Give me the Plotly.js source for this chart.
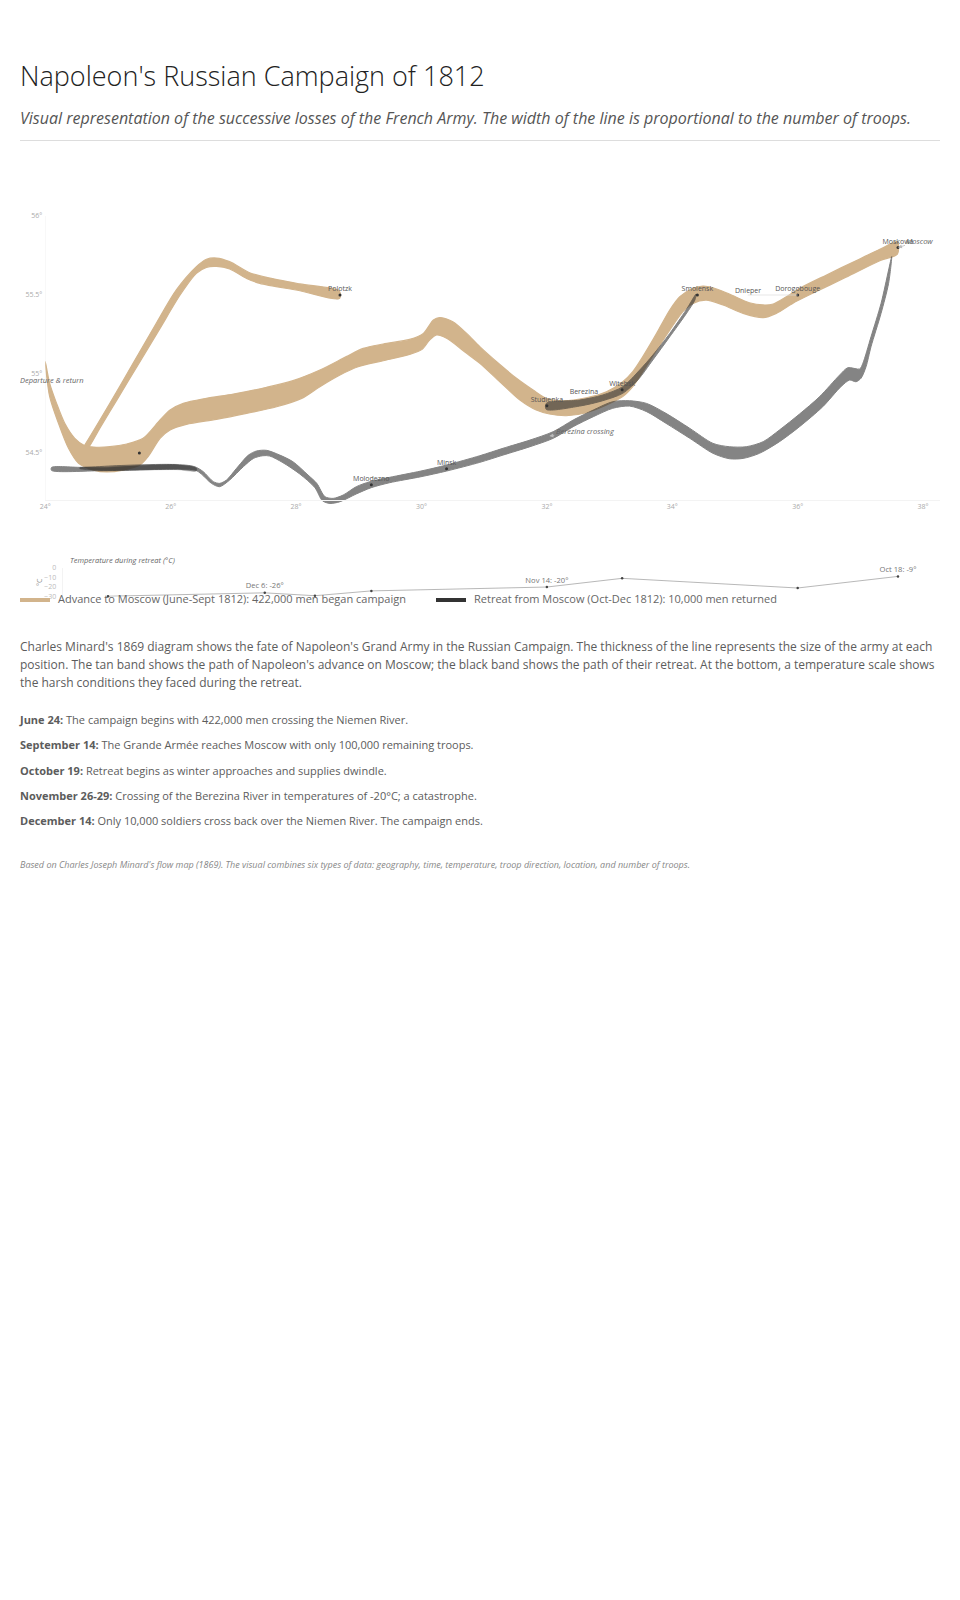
<!DOCTYPE html>
<html>
<head>
<meta charset="utf-8">
<script src="https://cdn.plot.ly/plotly-3.0.1.min.js"></script>
<style>
  html, body { margin: 0; padding: 0; background: #fff; }
  body { position: relative; width: 960px; height: 1600px; font-family: "Open Sans", sans-serif; overflow: hidden; }
  .abs { position: absolute; left: 20px; width: 920px; margin: 0; }
  #title { top: 56px; font-size: 27px; font-weight: 300; color: #222; line-height: 40px; white-space: nowrap; }
  #subtitle { top: 106px; font-size: 16px; font-style: italic; color: #555; line-height: 24px; white-space: nowrap; }
  #rule { top: 140px; height: 1px; background: #ddd; }
  #chart { top: 190px; height: 430px; }
  .legend-row { position: absolute; top: 590px; font-size: 11px; color: #666; line-height: 18px; white-space: nowrap; }
  .swatch { position: absolute; top: 598px; width: 30px; height: 4px; }
  #intro { top: 638px; font-size: 12px; line-height: 18px; color: #5c5c5c; }
  .event { font-size: 11px; line-height: 18px; color: #5c5c5c; white-space: nowrap; }
  .event b { font-weight: 700; }
  #foot { top: 858px; font-size: 9px; line-height: 14px; font-style: italic; color: #888; white-space: nowrap; }
</style>
</head>
<body>
<h1 class="abs" id="title" style="margin:0">Napoleon's Russian Campaign of 1812</h1>
<div class="abs" id="subtitle">Visual representation of the successive losses of the French Army. The width of the line is proportional to the number of troops.</div>
<div class="abs" id="rule"></div>
<div class="abs" id="chart"></div>
<div class="swatch" style="left:20px;background:#d2b48c"></div>
<div class="legend-row" style="left:58px">Advance to Moscow (June-Sept 1812): 422,000 men began campaign</div>
<div class="swatch" style="left:436px;background:#333"></div>
<div class="legend-row" style="left:474px">Retreat from Moscow (Oct-Dec 1812): 10,000 men returned</div>
<p class="abs" id="intro">Charles Minard's 1869 diagram shows the fate of Napoleon's Grand Army in the Russian Campaign. The thickness of the line represents the size of the army at each position. The tan band shows the path of Napoleon's advance on Moscow; the black band shows the path of their retreat. At the bottom, a temperature scale shows the harsh conditions they faced during the retreat.</p>
<p class="abs event" style="top:711px"><b>June 24:</b> The campaign begins with 422,000 men crossing the Niemen River.</p>
<p class="abs event" style="top:736px"><b>September 14:</b> The Grande Armée reaches Moscow with only 100,000 remaining troops.</p>
<p class="abs event" style="top:762px"><b>October 19:</b> Retreat begins as winter approaches and supplies dwindle.</p>
<p class="abs event" style="top:787px"><b>November 26-29:</b> Crossing of the Berezina River in temperatures of -20°C; a catastrophe.</p>
<p class="abs event" style="top:812px"><b>December 14:</b> Only 10,000 soldiers cross back over the Niemen River. The campaign ends.</p>
<p class="abs" id="foot">Based on Charles Joseph Minard's flow map (1869). The visual combines six types of data: geography, time, temperature, troop direction, location, and number of troops.</p>

<script>
// Band outlines (longitude, latitude)
const advanceLon = [24.00,24.07,24.21,24.37,24.53,24.77,24.98,25.24,25.51,25.64,25.83,25.99,26.25,26.73,27.21,27.69,28.09,28.38,28.70,28.99,29.39,29.81,30.01,30.13,30.24,30.40,30.72,30.93,31.25,31.57,31.83,32.04,32.31,32.63,32.95,33.21,33.37,33.53,33.75,33.96,34.17,34.33,34.54,34.81,35.13,35.45,35.66,35.92,36.24,36.77,37.31,37.59,37.59,37.31,36.93,36.46,36.03,35.82,35.61,35.45,35.23,34.91,34.65,34.49,34.33,34.12,33.96,33.75,33.53,33.37,33.21,32.95,32.63,32.26,31.99,31.78,31.51,31.25,30.93,30.72,30.50,30.29,30.19,30.03,29.81,29.39,29.07,28.80,28.38,27.95,27.53,27.00,26.57,26.20,25.99,25.83,25.56,25.30,25.03,24.77,24.61,24.47,24.31,24.18,24.07,24.00];
const advanceLat = [55.078,54.857,54.688,54.530,54.435,54.392,54.380,54.392,54.424,54.477,54.593,54.646,54.681,54.713,54.751,54.793,54.846,54.920,54.994,55.046,55.084,55.124,55.156,55.215,55.247,55.226,55.131,55.068,54.951,54.835,54.772,54.747,54.736,54.755,54.804,54.857,54.920,55.015,55.152,55.278,55.395,55.447,55.468,55.437,55.384,55.357,55.384,55.447,55.511,55.612,55.717,55.759,55.838,55.789,55.717,55.627,55.542,55.489,55.443,55.437,55.451,55.506,55.546,55.557,55.542,55.489,55.405,55.257,55.110,55.015,54.951,54.888,54.850,54.831,54.846,54.899,54.975,55.060,55.173,55.257,55.331,55.357,55.342,55.257,55.219,55.190,55.162,55.110,55.025,54.958,54.916,54.873,54.846,54.814,54.772,54.709,54.593,54.557,54.540,54.538,54.551,54.593,54.688,54.814,54.941,55.078];
const polotzkLon = [24.63,25.03,25.40,25.77,26.09,26.41,26.57,26.73,26.94,27.26,27.53,28.06,28.69,28.69,28.06,27.42,27.21,26.94,26.73,26.57,26.41,26.15,25.83,25.51,25.14,24.87,24.66,24.50,24.63];
const polotzkLat = [54.551,54.815,55.068,55.321,55.532,55.679,55.726,55.734,55.711,55.641,55.612,55.570,55.525,55.477,55.527,55.574,55.605,55.665,55.681,55.675,55.637,55.500,55.289,55.078,54.835,54.657,54.519,54.477,54.551];
const retreatLon = [24.10,24.61,25.14,25.93,26.31,26.41,26.52,26.68,26.78,26.89,27.05,27.24,27.37,27.53,27.74,27.95,28.19,28.33,28.46,28.59,28.75,28.96,29.18,29.49,29.99,30.40,30.93,31.30,31.73,32.10,32.42,32.74,33.05,33.32,33.59,33.90,34.28,34.65,34.91,35.18,35.45,35.71,36.03,36.35,36.67,36.80,36.99,37.04,37.17,37.33,37.45,37.50,37.45,37.33,37.17,37.09,37.01,36.93,36.83,36.69,36.40,36.03,35.71,35.39,35.13,34.91,34.65,34.28,33.90,33.59,33.32,33.05,32.74,32.42,32.10,31.73,31.30,30.93,30.40,29.99,29.49,29.20,28.96,28.70,28.54,28.42,28.30,28.06,27.79,27.58,27.47,27.32,27.16,26.94,26.78,26.65,26.49,26.39,25.93,25.40,24.87,24.10,24.10];
const retreatLat = [54.409,54.409,54.420,54.428,54.420,54.409,54.382,54.319,54.308,54.329,54.403,54.487,54.513,54.517,54.487,54.445,54.361,54.308,54.224,54.213,54.234,54.287,54.319,54.346,54.386,54.424,54.483,54.530,54.582,54.635,54.709,54.772,54.825,54.831,54.814,54.751,54.656,54.561,54.540,54.540,54.572,54.646,54.747,54.857,54.994,55.040,55.032,55.068,55.236,55.447,55.658,55.743,55.574,55.384,55.173,55.046,54.973,54.951,54.962,54.920,54.793,54.667,54.572,54.498,54.466,54.464,54.498,54.593,54.688,54.762,54.797,54.783,54.730,54.667,54.593,54.540,54.487,54.441,54.386,54.350,54.312,54.281,54.241,54.192,54.181,54.198,54.281,54.367,54.439,54.481,54.483,54.466,54.414,54.329,54.287,54.308,54.367,54.392,54.397,54.392,54.388,54.390,54.409];
const smolenskLon = [34.38,34.22,33.96,33.69,33.48,33.21,32.89,32.52,31.99,31.99,32.52,32.89,33.21,33.45,33.69,33.96,34.22,34.36,34.38];
const smolenskLat = [55.506,55.405,55.257,55.120,55.025,54.920,54.867,54.835,54.814,54.776,54.797,54.831,54.878,54.962,55.089,55.236,55.380,55.468,55.506];
const niemenLon = [24.55,24.98,25.56,26.09,26.41,26.41,26.09,25.56,24.98,24.55,24.55];
const niemenLat = [54.409,54.409,54.422,54.428,54.407,54.386,54.395,54.392,54.388,54.401,54.409];

// Cities
const cityNames = ["Polotzk","","Molodezno","Minsk","Studienka","Witebsk","Smolensk","Dorogobouge","Moskowa"];
const cityLon = [28.7,25.5,29.2,30.4,32.0,33.2,34.4,36.0,37.6];
const cityLat = [55.5,54.5,54.3,54.4,54.8,54.9,55.5,55.5,55.8];
const riverNames = ["Berezina"];
const riverLon = [32.59];
const riverLat = [54.884];

// Temperature during retreat
const tempLon = [25.0,27.5,28.3,29.2,32.0,33.2,36.0,37.6];
const tempVal = [-29.5,-26,-29,-24,-20,-11,-21,-9];
const tempText = ["","Dec 6: -26°","","","Nov 14: -20°","","","Oct 18: -9°"];

const xTicks = [24,26,28,30,32,34,36,38];
const xTickText = ["24°","26°","28°","30°","32°","34°","36°","38°"];
const yTicks = [54.5,55,55.5,56];
const yTickText = ["54.5°","55°","55.5°","56°"];
const tempTicks = [0,-10,-20,-30];

const TAN = "#d2b48c", DARK = "#333333";
function band(x, y, color, opacity, width) {
  return { type: "scatter", mode: "lines", x, y, fill: "toself", fillcolor: color, opacity,
           line: { shape: "spline", smoothing: 0.8, width, color }, hoverinfo: "skip", showlegend: false };
}
const labelFont = { family: "Open Sans", size: 7, color: "#555" };
const traces = [
  band(polotzkLon, polotzkLat, TAN, 1, 1.2),
  band(advanceLon, advanceLat, TAN, 1, 1.2),
  band(retreatLon, retreatLat, DARK, 0.6, 1),
  band(niemenLon, niemenLat, DARK, 0.6, 0.3),
  band(smolenskLon, smolenskLat, DARK, 0.6, 1),
  { type: "scatter", mode: "markers", x: cityLon, y: cityLat,
    marker: { size: 3, color: "#333" }, hoverinfo: "skip", showlegend: false },
  { type: "scatter", mode: "markers+text", x: cityLon, y: cityLat, text: cityNames, textposition: "top center",
    marker: { size: 1.5, opacity: 0 }, textfont: labelFont, hoverinfo: "skip", showlegend: false, cliponaxis: false },
  { type: "scatter", mode: "text", x: riverLon, y: riverLat, text: riverNames, textposition: "middle center",
    textfont: labelFont, hoverinfo: "skip", showlegend: false },
  { type: "scatter", mode: "lines+markers+text", x: tempLon, y: tempVal, text: tempText, textposition: "top center",
    textfont: { family: "Open Sans", size: 7.6, color: "#777" }, xaxis: "x2", yaxis: "y2",
    line: { color: "#999", width: 0.7 }, marker: { size: 2.5, color: "#444" }, hoverinfo: "skip", showlegend: false, cliponaxis: false }
];

const W = 920, H = 430;
const px = v => (v - 20) / W;      // page x to paper
const py = v => (620 - v) / H;     // page y to paper
const noteFont = { family: "Open Sans", size: 7.5, color: "#666" };
function note(text, x, y, ax, ay) {
  return { text: "<i>" + text + "</i>", x, y, xref: "x", yref: "y", ax, ay, axref: "pixel", ayref: "pixel",
    showarrow: true, arrowhead: 2, arrowsize: 1, arrowwidth: 0.8, arrowcolor: "#bbb", font: noteFont };
}

const layout = {
  width: W, height: H,
  margin: { l: 0, r: 0, t: 0, b: 0 },
  paper_bgcolor: "rgba(0,0,0,0)", plot_bgcolor: "rgba(0,0,0,0)",
  font: { family: "Open Sans" },
  xaxis: { domain: [px(45.3), 1], range: [24, 38.27], anchor: "free", position: py(500), tickvals: xTicks, ticktext: xTickText,
           ticklen: 0, showgrid: false, zeroline: false, showline: true, linecolor: "#f3f3f3", linewidth: 1,
           tickfont: { family: "Open Sans", size: 7, color: "#aaa" } },
  yaxis: { domain: [py(511.5), py(216)], range: [54.13, 56], tickvals: yTicks, ticktext: yTickText, ticklen: 0,
           ticklabelstandoff: 2, showgrid: false, zeroline: false, showline: false,
           tickfont: { family: "Open Sans", size: 7, color: "#aaa" } },
  xaxis2: { domain: [px(62.7), 1], range: [24.277, 38.27], anchor: "y2", visible: false },
  yaxis2: { domain: [py(596.7), py(567.7)], range: [-30, 0], anchor: "x2", tickvals: tempTicks, ticklen: 0,
            ticklabelstandoff: 4, showgrid: false, zeroline: false, showline: true, linecolor: "#f3f3f3", linewidth: 1,
            title: { text: "°C", standoff: 0, font: { family: "Open Sans", size: 7, color: "#888" } },
            tickfont: { family: "Open Sans", size: 7, color: "#bbb" } },
  shapes: [
    { type: "line", xref: "x", yref: "y", x0: 24, x1: 24, y0: 54.2, y1: 56, line: { color: "#f3f3f3", width: 1 }, layer: "below" }
  ],
  annotations: [
    note("Departure &amp; return", 24, 55, 6.5, 6.2),
    note("Moscow", 37.6, 55.8, 22, -7),
    note("Berezina crossing", 32.04, 54.608, 36, -5),
    { text: "Dnieper", x: 36, y: 55.5, xref: "x", yref: "y", ax: -50, ay: -0.01, axref: "pixel", ayref: "pixel",
      yanchor: "bottom", borderpad: 0, borderwidth: 0, showarrow: true, arrowhead: 0, arrowwidth: 0.7, arrowcolor: "#ddd", font: labelFont },
    { text: "<i>Temperature during retreat (°C)</i>", x: px(68), y: py(560), xref: "paper", yref: "paper",
      xanchor: "left", yanchor: "middle", showarrow: false, font: noteFont }
  ]
};
Plotly.newPlot("chart", traces, layout, { displayModeBar: false, staticPlot: true });
</script>
</body>
</html>
